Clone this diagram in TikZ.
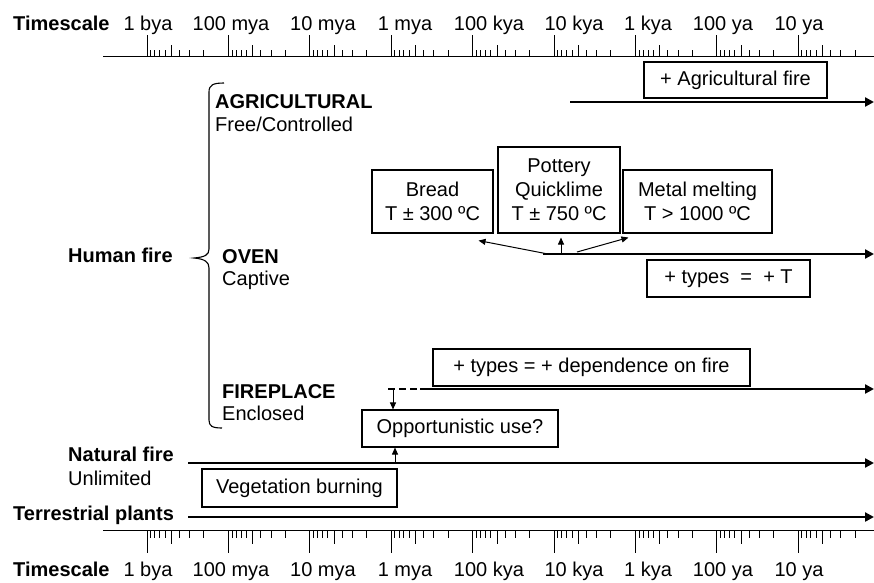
\documentclass[tikz,border=0pt]{standalone}
\usepackage{fontspec}
\setmainfont{Liberation Sans}
\usetikzlibrary{arrows.meta,calc}
\newcommand\fsz{\fontsize{20}{24}\selectfont}
\begin{document}
\begin{tikzpicture}[x=1pt,y=-1pt,
  every node/.style={font=\fsz, inner sep=0pt},
  lab/.style={anchor=base west},
  blab/.style={anchor=base west, font=\fsz\bfseries},
  tlab/.style={anchor=base},
  tbox/.style={draw, line width=1.1pt, align=center},
  thickline/.style={line width=2.8pt, -{Triangle[length=9pt,width=9pt]}},
  dashline/.style={line width=2.8pt, dash pattern=on 7pt off 4pt},
  thinarrow/.style={line width=1pt, -{Triangle[length=7pt,width=6pt]}},
  axisline/.style={line width=1pt},
  tickline/.style={line width=0.9pt}]
\useasboundingbox (0,0) rectangle (874,582);
\fill[white] (0,0) rectangle (874,582);

% ---------- timescales ----------
\draw[axisline] (103,56) -- (874,56);
\draw[axisline] (103,530) -- (874,530);
\foreach \k in {0,...,8}{
  \pgfmathsetmacro\xa{147+81.4*\k}
  \draw[tickline] (\xa,56) -- (\xa,35);
  \draw[tickline] (\xa,530) -- (\xa,553);
  \foreach \d in {2,...,9}{
    \pgfmathsetmacro\xm{\xa+81.4*(1-log10(\d))}
    \pgfmathsetmacro\ht{ifthenelse(\d==5,11,6)}
    \pgfmathsetmacro\hb{ifthenelse(\d==5,14,8)}
    \draw[tickline] (\xm,56) -- ++(0,-\ht);
    \draw[tickline] (\xm,530) -- ++(0,\hb);
  }
}
\node[blab] (tsT) at (13,30) {Timescale};
\node[blab] (tsB) at (13,576) {Timescale};
\foreach \x/\t [count=\i] in {148/1 bya,231/100 mya,323/10 mya,405/1 mya,489/100 kya,574/10 kya,648/1 kya,723/100 ya,799/10 ya}{
  \node[tlab] (lt\i) at (\x,30) {\t};
  \node[tlab] (lb\i) at (\x,576) {\t};
}

% ---------- left labels ----------
\node[blab] (human) at (68,262) {Human fire};
\node[blab] (agri) at (215,108) {AGRICULTURAL};
\node[lab] (agri2) at (215,131) {Free/Controlled};
\node[blab] (oven) at (222,263) {OVEN};
\node[lab] (oven2) at (222,285) {Captive};
\node[blab] (firep) at (222,398) {FIREPLACE};
\node[lab] (firep2) at (222,420) {Enclosed};
\node[blab] (natural) at (68,461) {Natural fire};
\node[lab] (natural2) at (68,485) {Unlimited};
\node[blab] (terr) at (13,520) {Terrestrial plants};

% brace
\draw[line width=1.1pt] (224,83) .. controls (213,83) and (209,85) .. (209,92)
  -- (209,249) .. controls (209,255) and (205,257) .. (194,258)
  .. controls (205,259) and (209,262) .. (209,268)
  -- (209,420) .. controls (209,426) and (212,428) .. (222,428);

% ---------- boxes ----------
\node[tbox, minimum width=183, minimum height=36] (agbox) at (735.5,80) {+ Agricultural fire};
\node[tbox, minimum width=121, minimum height=63] (breadbox) at (432.5,201.5) {Bread\\T ± 300 ºC};
\node[tbox, minimum width=122, minimum height=86] (potbox) at (559,190) {Pottery\\Quicklime\\T ± 750 ºC};
\node[tbox, minimum width=149, minimum height=63] (metalbox) at (697.5,201.5) {Metal melting\\T > 1000 ºC};
\node[tbox, minimum width=163, minimum height=37] (typesT) at (728.5,278.5) {+ types~~=~~+ T};
\node[tbox, minimum width=317, minimum height=37] (depbox) at (591.5,367.5) {+ types = + dependence on fire};
\node[tbox, minimum width=196, minimum height=37] (oppbox) at (460,428.5) {Opportunistic use?};
\node[tbox, minimum width=195, minimum height=38] (vegbox) at (299.5,488) {Vegetation burning};

% ---------- timelines ----------
\coordinate (agS) at (570,102);   \coordinate (agE) at (874,102);
\coordinate (ovS) at (543,254);   \coordinate (ovE) at (874,254);
\coordinate (fpD) at (388,389);   \coordinate (fpS) at (420,389);  \coordinate (fpE) at (874,389);
\coordinate (naS) at (188,463);   \coordinate (naE) at (874,463);
\coordinate (teS) at (188,517);   \coordinate (teE) at (874,517);

\draw[thickline] (agS) -- (agE);
\draw[thickline] (ovS) -- (ovE);
\draw[dashline] (fpD) -- (fpS);
\draw[thickline] (fpS) -- (fpE);
\draw[thickline] (naS) -- (naE);
\draw[thickline] (teS) -- (teE);

% oven arrows
\coordinate (o1) at (548,254);
\coordinate (o2) at (561,253);
\coordinate (o3) at (577,252);
\draw[thinarrow] (o1) -- ($(breadbox.south east)+(-15,7)$);
\draw[thinarrow] (o2) -- ($(potbox.south)+(2,4)$);
\draw[thinarrow] (o3) -- ($(metalbox.south west)+(6,4)$);

% fireplace / opportunistic arrows
\coordinate (fd) at (393,389);
\coordinate (nu) at (395,462);
\draw[thinarrow] (fd) -- (fd |- oppbox.north);
\draw[thinarrow] (nu) -- (nu |- oppbox.south);
\end{tikzpicture}
\end{document}
